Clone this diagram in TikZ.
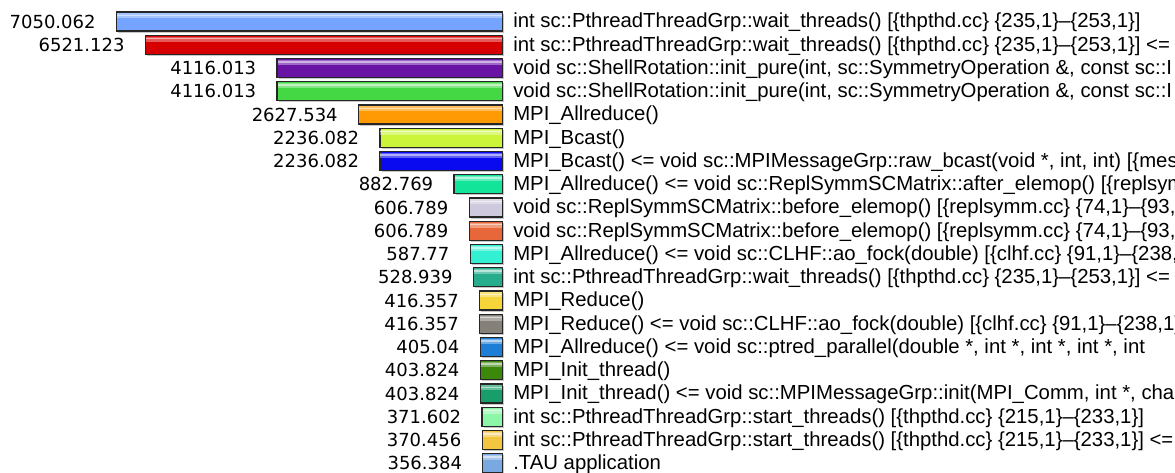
\documentclass[tikz,border=0pt]{standalone}
\usepackage{fontspec}
\setmainfont{Liberation Sans}
\newfontfamily\valfont{DejaVu Sans}
\usepackage{tikz}
\usetikzlibrary{positioning,shadows}
\definecolor{pSky}{HTML}{74A4FF}
\definecolor{pRed}{HTML}{D70000}
\definecolor{pPurple}{HTML}{6A14A6}
\definecolor{pGreen}{HTML}{44D844}
\definecolor{pOrange}{HTML}{FF9A05}
\definecolor{pLime}{HTML}{CCF53A}
\definecolor{pBlue}{HTML}{0A0AF0}
\definecolor{pMint}{HTML}{12E49A}
\definecolor{pLilac}{HTML}{CFC9DE}
\definecolor{pCoral}{HTML}{E8673A}
\definecolor{pAqua}{HTML}{33F0D2}
\definecolor{pTeal}{HTML}{26AD8C}
\definecolor{pGold}{HTML}{F6D53A}
\definecolor{pTaupe}{HTML}{86807A}
\definecolor{pAzure}{HTML}{1E7ED6}
\definecolor{pLeaf}{HTML}{3C880A}
\definecolor{pJade}{HTML}{189E6A}
\definecolor{pPale}{HTML}{8CF7A8}
\definecolor{pSand}{HTML}{F2C640}
\definecolor{pSteel}{HTML}{7AA8E0}
\tikzset{
  barbox/.style  = {draw=black!85, line width=0.9pt, inner sep=0pt,
                    minimum height=14.25pt, anchor=east,
                    drop shadow={shadow xshift=1.2pt, shadow yshift=-1.2pt,
                                 fill=black!22, opacity=1}},
  gloss/.style   = {fill=white, opacity=0.35},
  glossln/.style = {fill=white, opacity=0.5},
  vlab/.style    = {font=\valfont\fontsize{13.5}{16}\selectfont, inner sep=0pt},
  flab/.style    = {font=\fontsize{15.25}{17}\selectfont, inner sep=0pt,
                    text height=11.1pt, text depth=3.2pt},
}
\newcommand{\rowtop}{21.5}
\newcommand{\rowsep}{23.25}
\newcommand{\barend}{503}
\newcommand{\barscale}{0.054752}
\newcommand{\profbar}[4]{%              % #1 = row, #2 = value, #3 = colour, #4 = label
  \pgfmathsetmacro{\ty}{\rowtop+(#1-1)*\rowsep}%
  \pgfmathsetmacro{\tw}{#2*\barscale*0.75}%
  \node[barbox, fill=#3, minimum width=\tw pt] (bar#1) at (\barend,\ty) {};
  \fill[gloss] ([shift={(0.8pt,-1.5pt)}]bar#1.north west)
      rectangle ([shift={(-0.8pt,-5.2pt)}]bar#1.north east);
  \fill[glossln] ([shift={(0.8pt,-2.4pt)}]bar#1.north west)
      rectangle ([shift={(-0.8pt,-3.6pt)}]bar#1.north east);
  \node[vlab, left=15pt of bar#1] (val#1) {#2};
  \node[flab, right=7.5pt of bar#1, yshift=-0.8pt] (lab#1) {#4};}

\begin{document}
\begin{tikzpicture}[x=0.75pt, y=-0.75pt]
  \useasboundingbox (0,0) rectangle (1175,473);
  \clip (0,0) rectangle (1175,473);
  \fill[white] (0,0) rectangle (1175,473);
  \profbar{1}{7050.062}{pSky}{int sc::PthreadThreadGrp::wait\_threads() [\{thpthd.cc\} \{235,1\}–\{253,1\}]}
  \profbar{2}{6521.123}{pRed}{int sc::PthreadThreadGrp::wait\_threads() [\{thpthd.cc\} \{235,1\}–\{253,1\}] <=}
  \profbar{3}{4116.013}{pPurple}{void sc::ShellRotation::init\_pure(int, sc::SymmetryOperation \&, const sc::I}
  \profbar{4}{4116.013}{pGreen}{void sc::ShellRotation::init\_pure(int, sc::SymmetryOperation \&, const sc::I}
  \profbar{5}{2627.534}{pOrange}{MPI\_Allreduce()}
  \profbar{6}{2236.082}{pLime}{MPI\_Bcast()}
  \profbar{7}{2236.082}{pBlue}{MPI\_Bcast() <= void sc::MPIMessageGrp::raw\_bcast(void *, int, int) [\{mess}
  \profbar{8}{882.769}{pMint}{MPI\_Allreduce() <= void sc::ReplSymmSCMatrix::after\_elemop() [\{replsym}
  \profbar{9}{606.789}{pLilac}{void sc::ReplSymmSCMatrix::before\_elemop() [\{replsymm.cc\} \{74,1\}–\{93,1}
  \profbar{10}{606.789}{pCoral}{void sc::ReplSymmSCMatrix::before\_elemop() [\{replsymm.cc\} \{74,1\}–\{93,1}
  \profbar{11}{587.77}{pAqua}{MPI\_Allreduce() <= void sc::CLHF::ao\_fock(double) [\{clhf.cc\} \{91,1\}–\{238,}
  \profbar{12}{528.939}{pTeal}{int sc::PthreadThreadGrp::wait\_threads() [\{thpthd.cc\} \{235,1\}–\{253,1\}] <=}
  \profbar{13}{416.357}{pGold}{MPI\_Reduce()}
  \profbar{14}{416.357}{pTaupe}{MPI\_Reduce() <= void sc::CLHF::ao\_fock(double) [\{clhf.cc\} \{91,1\}–\{238,1\}}
  \profbar{15}{405.04}{pAzure}{MPI\_Allreduce() <= void sc::ptred\_parallel(double *, int *, int *, int *, int}
  \profbar{16}{403.824}{pLeaf}{MPI\_Init\_thread()}
  \profbar{17}{403.824}{pJade}{MPI\_Init\_thread() <= void sc::MPIMessageGrp::init(MPI\_Comm, int *, char}
  \profbar{18}{371.602}{pPale}{int sc::PthreadThreadGrp::start\_threads() [\{thpthd.cc\} \{215,1\}–\{233,1\}]}
  \profbar{19}{370.456}{pSand}{int sc::PthreadThreadGrp::start\_threads() [\{thpthd.cc\} \{215,1\}–\{233,1\}] <=}
  \profbar{20}{356.384}{pSteel}{.TAU application}
\end{tikzpicture}
\end{document}
